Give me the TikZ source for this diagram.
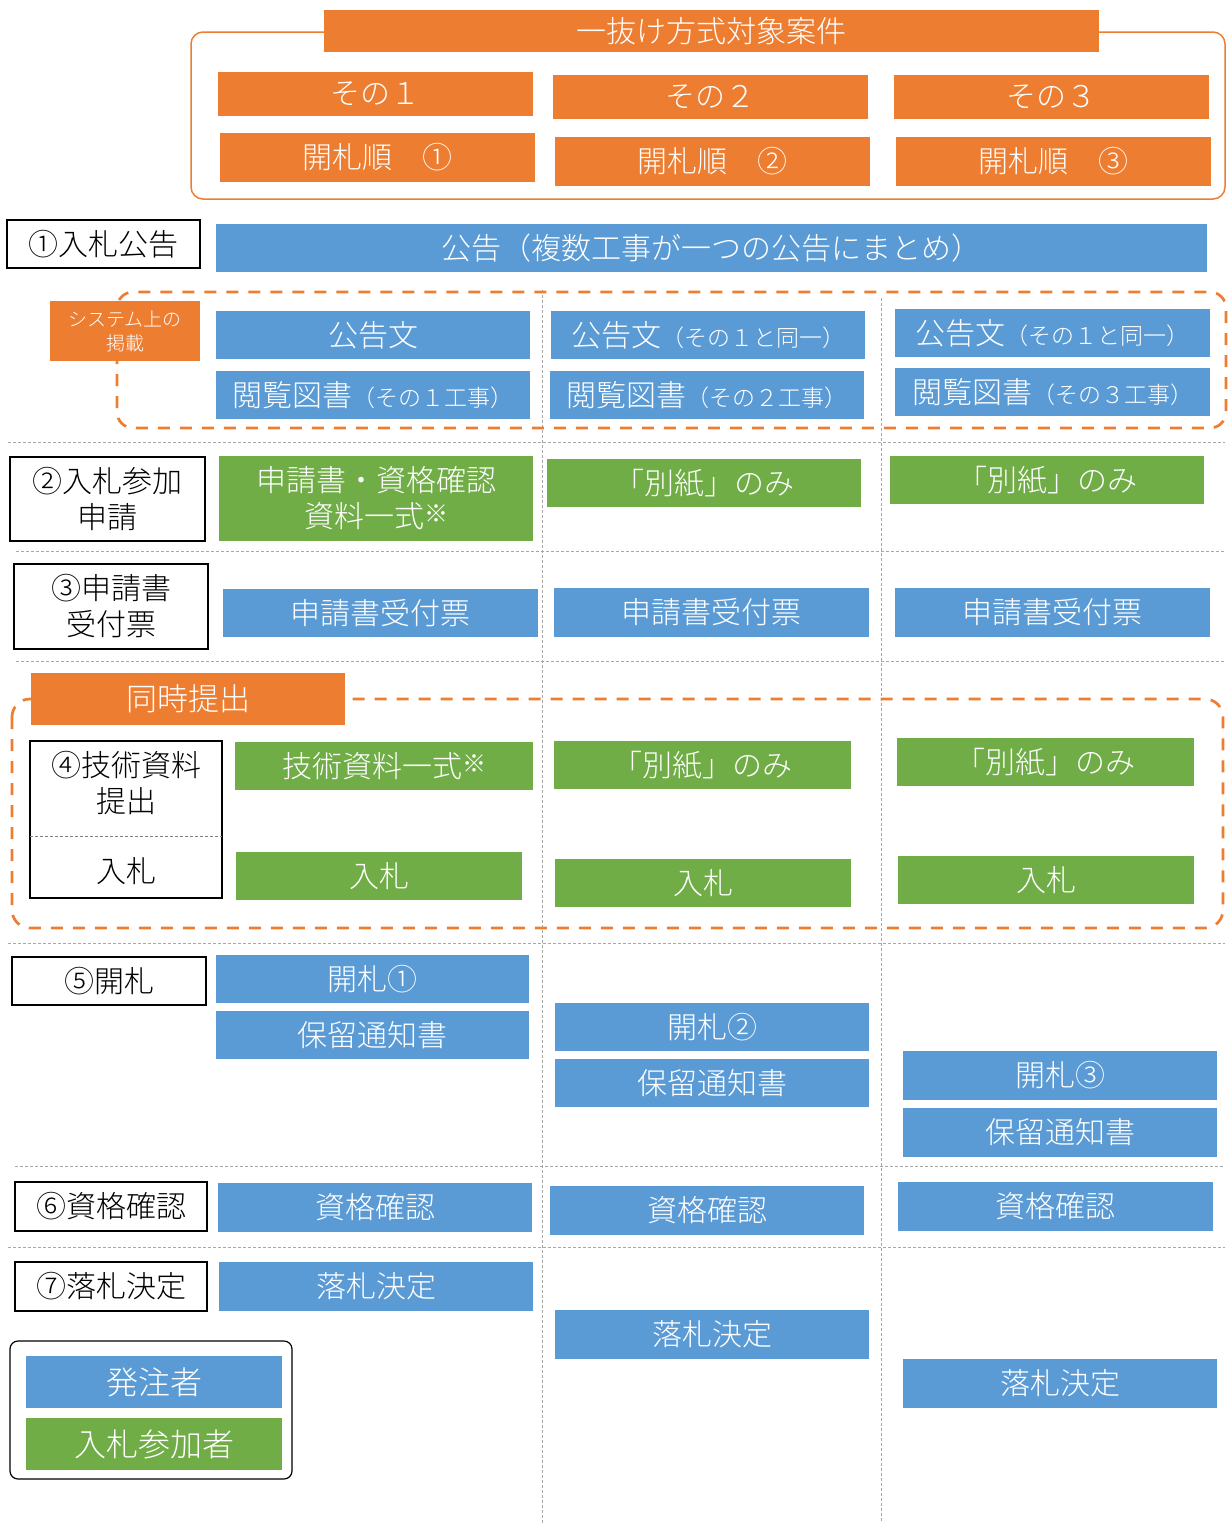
\documentclass[tikz,border=0pt]{standalone}
\usepackage{fontspec}
\setmainfont{Noto Sans CJK JP}[UprightFont={* Light}]
\definecolor{orA}{HTML}{ED7D31}
\definecolor{blA}{HTML}{5B9BD5}
\definecolor{grA}{HTML}{70AD47}
\definecolor{lnA}{HTML}{A6A6A6}
\newcommand\mybox[7]{%
  \pgfmathsetmacro\bxcx{(#3+#5)/2}%
  \pgfmathsetmacro\bxcy{(#4+#6)/2}%
  \pgfmathsetmacro\bxw{#5-#3}%
  \pgfmathsetmacro\bxh{#6-#4}%
  \node[#1, minimum width=\bxw pt, minimum height=\bxh pt] (#2) at (\bxcx,\bxcy) {#7};}
\newcommand\sm[1]{{\fontsize{23}{26}\selectfont #1}}
\newcommand\kome{\raisebox{5pt}{\fontsize{24}{24}\selectfont ※}}
\tikzset{
  base/.style={inner sep=0pt, outer sep=0pt, align=center, font=\fontsize{30}{36}\selectfont},
  obox/.style={base, fill=orA, text=white},
  bbox/.style={base, fill=blA, text=white},
  gbox/.style={base, fill=grA, text=white},
  lbox/.style={base, draw=black, line width=1.2pt, text=black, fill=white},
  gridline/.style={draw=lnA, line width=1pt, dash pattern=on 3pt off 2pt},
  odash/.style={draw=orA, line width=2.7pt, dash pattern=on 12pt off 10pt, rounded corners=16pt},
}
\begin{document}
\begin{tikzpicture}[x=1pt,y=-1pt]
\useasboundingbox (0,0) rectangle (1227,1523);
% grid lines
\draw[gridline] (542,290) -- (542,1523);
\draw[gridline] (881,298) -- (881,1523);
\draw[gridline] (8,442) -- (1225,442);
\draw[gridline] (16,551) -- (1225,551);
\draw[gridline] (16,661) -- (1225,661);
\draw[gridline] (8,943) -- (1225,943);
\draw[gridline] (15,1166) -- (1225,1166);
\draw[gridline] (8,1247) -- (1225,1247);
% header
\draw[orA, line width=1.5pt, rounded corners=12pt] (191,32) rectangle (1225,199);
\mybox{obox}{title}{324}{10}{1099}{52}{一抜け方式対象案件}
\mybox{obox}{s1}{218}{72}{533}{116}{その１}
\mybox{obox}{s2}{553}{75}{868}{119}{その２}
\mybox{obox}{s3}{894}{75}{1209}{119}{その３}
\mybox{obox}{k1}{220}{133}{535}{182}{開札順　①}
\mybox{obox}{k2}{555}{137}{870}{186}{開札順　②}
\mybox{obox}{k3}{896}{137}{1211}{186}{開札順　③}
% row 1
\mybox{lbox}{l1}{7}{220}{200}{268}{①入札公告}
\mybox{bbox}{a1}{216}{224}{1207}{272}{公告（複数工事が一つの公告にまとめ）}
\draw[odash] (117,292) rectangle (1226,428);
\mybox{obox, font=\fontsize{19}{24}\selectfont}{sys}{50}{301}{200}{361}{システム上の\\掲載}
\mybox{bbox}{b11}{216}{311}{530}{359}{公告文}
\mybox{bbox}{b12}{216}{371}{530}{419}{閲覧図書\sm{（その１工事）}}
\mybox{bbox}{b21}{551}{311}{865}{359}{公告文\sm{（その１と同一）}}
\mybox{bbox}{b22}{550}{371}{864}{419}{閲覧図書\sm{（その２工事）}}
\mybox{bbox}{b31}{895}{309}{1210}{357}{公告文\sm{（その１と同一）}}
\mybox{bbox}{b32}{895}{368}{1210}{416}{閲覧図書\sm{（その３工事）}}
% row 2
\mybox{lbox}{l2}{10}{457}{205}{541}{②入札参加\\申請}
\mybox{gbox}{c11}{219}{456}{533}{541}{申請書・資格確認\\資料一式\kome}
\mybox{gbox}{c21}{547}{459}{861}{507}{「別紙」のみ}
\mybox{gbox}{c31}{890}{456}{1204}{504}{「別紙」のみ}
% row 3
\mybox{lbox}{l3}{14}{564}{208}{649}{③申請書\\受付票}
\mybox{bbox}{d1}{223}{589}{538}{637}{申請書受付票}
\mybox{bbox}{d2}{554}{588}{869}{637}{申請書受付票}
\mybox{bbox}{d3}{895}{588}{1210}{637}{申請書受付票}
% row 4
\draw[odash, rounded corners=18pt] (12,699) rectangle (1223,928);
\mybox{obox, font=\fontsize{31}{36}\selectfont}{sim}{31}{673}{345}{725}{同時提出}
\mybox{lbox}{l4}{30}{741}{222}{898}{}
\node[base, text=black] (l4a) at (126,783) {④技術資料\\提出};
\node[base, text=black] (l4b) at (126,871) {入札};
\coordinate (dl) at (0,836);
\draw[draw=gray, line width=1pt, dash pattern=on 3pt off 2pt] (l4.west |- dl) -- (l4.east |- dl);
\mybox{gbox}{e11}{235}{742}{533}{790}{技術資料一式\kome}
\mybox{gbox}{e12}{236}{852}{522}{900}{入札}
\mybox{gbox}{e21}{554}{741}{851}{789}{「別紙」のみ}
\mybox{gbox}{e22}{555}{859}{851}{907}{入札}
\mybox{gbox}{e31}{897}{738}{1194}{786}{「別紙」のみ}
\mybox{gbox}{e32}{898}{856}{1194}{904}{入札}
% row 5
\mybox{lbox}{l5}{12}{957}{206}{1005}{⑤開札}
\mybox{bbox}{f11}{216}{955}{529}{1003}{開札①}
\mybox{bbox}{f12}{216}{1011}{529}{1059}{保留通知書}
\mybox{bbox}{f21}{555}{1003}{869}{1051}{開札②}
\mybox{bbox}{f22}{555}{1059}{869}{1107}{保留通知書}
\mybox{bbox}{f31}{903}{1051}{1217}{1100}{開札③}
\mybox{bbox}{f32}{903}{1108}{1217}{1157}{保留通知書}
% row 6
\mybox{lbox}{l6}{15}{1182}{207}{1231}{⑥資格確認}
\mybox{bbox}{g1}{218}{1183}{532}{1232}{資格確認}
\mybox{bbox}{g2}{550}{1186}{864}{1235}{資格確認}
\mybox{bbox}{g3}{898}{1182}{1213}{1231}{資格確認}
% row 7
\mybox{lbox}{l7}{15}{1262}{207}{1311}{⑦落札決定}
\mybox{bbox}{h1}{219}{1262}{533}{1311}{落札決定}
\mybox{bbox}{h2}{555}{1310}{869}{1359}{落札決定}
\mybox{bbox}{h3}{903}{1359}{1217}{1408}{落札決定}
% legend
\mybox{lbox, rounded corners=8pt}{leg}{10}{1341}{292}{1479}{}
\mybox{bbox, font=\fontsize{32}{38}\selectfont}{lg1}{26}{1356}{282}{1408}{発注者}
\mybox{gbox, font=\fontsize{32}{38}\selectfont}{lg2}{26}{1418}{282}{1470}{入札参加者}
\end{tikzpicture}
\end{document}
